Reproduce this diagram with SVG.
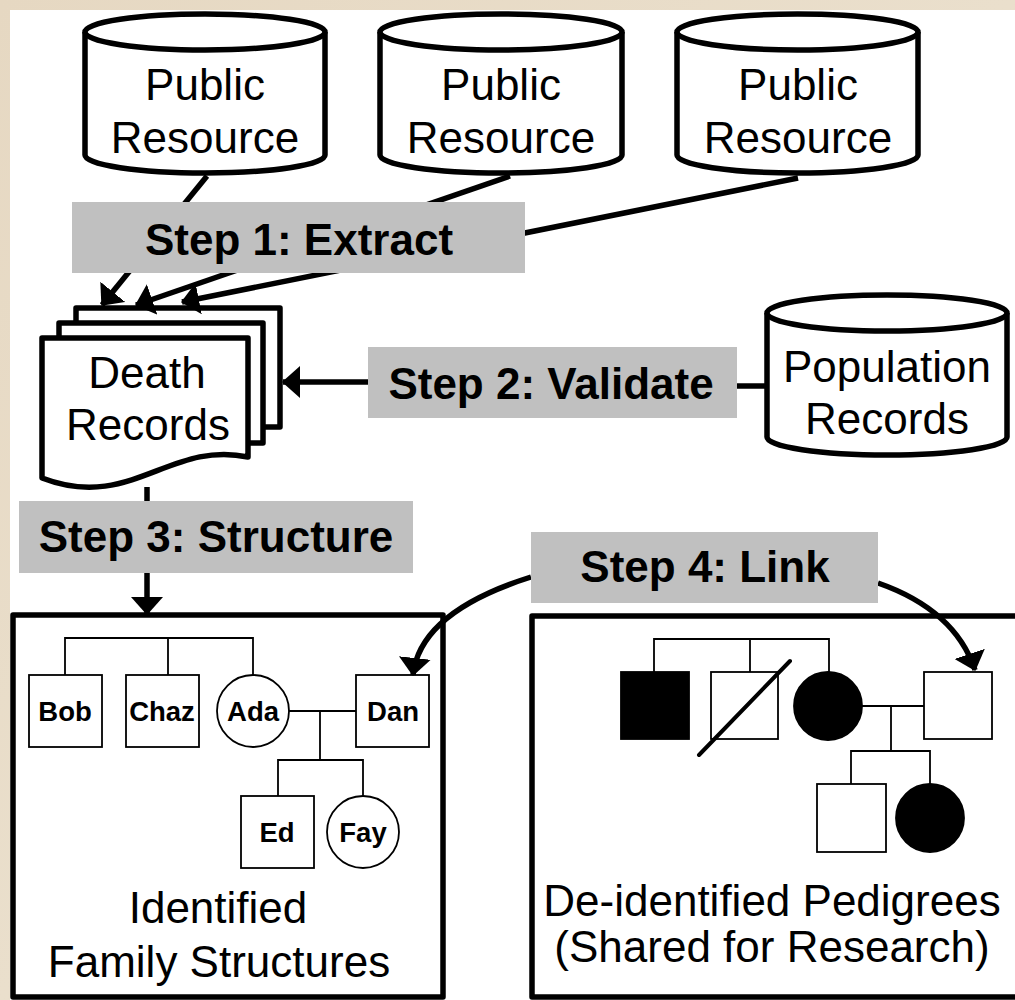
<svg xmlns="http://www.w3.org/2000/svg" width="1015" height="1000" viewBox="0 0 1015 1000">
<defs>
<linearGradient id="parch" x1="0" y1="0" x2="1" y2="1">
<stop offset="0" stop-color="#e6d8c2"/>
<stop offset="0.5" stop-color="#eadfcc"/>
<stop offset="1" stop-color="#dccbb0"/>
</linearGradient>
<marker id="arr" viewBox="0 0 18 32" refX="17" refY="16" markerWidth="18" markerHeight="32" orient="auto" markerUnits="userSpaceOnUse">
<path d="M0,0 L18,16 L0,32 Z" fill="#000"/>
</marker>
<style>
.thick{fill:#fff;stroke:#000;stroke-width:5.5;stroke-linejoin:round}
.conn{fill:none;stroke:#000;stroke-width:5.5}
.thin{fill:#fff;stroke:#000;stroke-width:1.8}
.thinl{fill:none;stroke:#000;stroke-width:1.8}
.filled{fill:#000;stroke:#000;stroke-width:1.8}
.big{font-family:"Liberation Sans",Arial,sans-serif;font-size:44px;fill:#000;text-anchor:middle}
.step{font-family:"Liberation Sans",Arial,sans-serif;font-size:44px;font-weight:bold;fill:#000;text-anchor:middle}
.name{font-family:"Liberation Sans",Arial,sans-serif;font-size:27.5px;font-weight:bold;fill:#000;text-anchor:middle}
.lbl{fill:#c0c0c0}
</style>
</defs>
<rect x="0" y="0" width="1015" height="1000" fill="url(#parch)"/>
<rect x="10" y="10" width="1005" height="990" fill="#fff"/>

<g id="public-resource-1">
<path class="thick" d="M85,32 V155 A120,18 0 0 0 325,155 V32"/>
<ellipse class="thick" cx="205" cy="32" rx="120" ry="18"/>
<text class="big" x="205" y="100">Public</text>
<text class="big" x="205" y="153">Resource</text>
</g>
<g id="public-resource-2">
<path class="thick" d="M380,32 V155 A121,18 0 0 0 622,155 V32"/>
<ellipse class="thick" cx="501" cy="32" rx="121" ry="18"/>
<text class="big" x="501" y="100">Public</text>
<text class="big" x="501" y="153">Resource</text>
</g>
<g id="public-resource-3">
<path class="thick" d="M677,32 V155 A120.5,18 0 0 0 918,155 V32"/>
<ellipse class="thick" cx="797.5" cy="32" rx="120.5" ry="18"/>
<text class="big" x="798" y="100">Public</text>
<text class="big" x="798" y="153">Resource</text>
</g>
<g id="population-records">
<path class="thick" d="M767,313 V437 A120,18 0 0 0 1007,437 V313"/>
<ellipse class="thick" cx="887" cy="313" rx="120" ry="18"/>
<text class="big" x="887" y="382">Population</text>
<text class="big" x="887" y="434">Records</text>
</g>
<g id="death-records">
<rect class="thick" x="76" y="308" width="204" height="119"/>
<rect class="thick" x="59" y="323" width="204" height="120"/>
<path class="thick" d="M42,338 H248 V457 C170,440 130,512 42,478 Z"/>
<text class="big" x="147" y="388">Death</text>
<text class="big" x="148" y="440">Records</text>
</g>

<g id="identified-family">
<rect class="thick" x="13" y="615" width="430" height="382"/>
<path class="thinl" d="M65,675 V638 H253 V675 M168,638 V675 M289,711 H356 M320,711 V760 M278,796 V760 H363 V796"/>
<rect class="thin" x="29" y="675" width="73" height="72"/>
<rect class="thin" x="126" y="675" width="73" height="72"/>
<circle class="thin" cx="253" cy="711" r="36"/>
<rect class="thin" x="356" y="675" width="73" height="72"/>
<rect class="thin" x="241" y="796" width="73" height="72"/>
<circle class="thin" cx="363" cy="832" r="36"/>
<text class="name" x="65" y="721">Bob</text>
<text class="name" x="162" y="721">Chaz</text>
<text class="name" x="253" y="721">Ada</text>
<text class="name" x="393" y="721">Dan</text>
<text class="name" x="277" y="842">Ed</text>
<text class="name" x="363" y="842">Fay</text>
<text class="big" x="218" y="923">Identified</text>
<text class="big" x="219" y="977">Family Structures</text>
</g>

<g id="deidentified-pedigrees">
<rect class="thick" x="532" y="616" width="520" height="381"/>
<path class="thinl" d="M654,672 V639 H829 V672 M750,639 V672 M862,706 H924 M891,706 V751 M851,784 V751 H930 V784"/>
<rect class="filled" x="621" y="672" width="68" height="67"/>
<rect class="thin" x="711" y="672" width="67" height="67"/>
<line x1="699" y1="755" x2="790" y2="661" stroke="#000" stroke-width="4" stroke-linecap="round"/>
<circle class="filled" cx="828" cy="706" r="34"/>
<rect class="thin" x="924" y="672" width="68" height="67"/>
<rect class="thin" x="817" y="784" width="69" height="68"/>
<circle class="filled" cx="930" cy="818" r="34"/>
<text class="big" x="772" y="916">De-identified Pedigrees</text>
<text class="big" x="772" y="962">(Shared for Research)</text>
</g>

<g id="connectors">
<line class="conn" x1="207" y1="176" x2="102" y2="305" marker-end="url(#arr)"/>
<line class="conn" x1="510" y1="176" x2="136" y2="305" marker-end="url(#arr)"/>
<line class="conn" x1="798" y1="178" x2="182" y2="302" marker-end="url(#arr)"/>
<line class="conn" x1="368" y1="382" x2="283" y2="382" marker-end="url(#arr)"/>
<line class="conn" x1="737" y1="386" x2="767" y2="386"/>
<line class="conn" x1="147" y1="487" x2="147" y2="502"/>
<line class="conn" x1="147" y1="573" x2="147" y2="614" marker-end="url(#arr)"/>
<path class="conn" d="M531,577 Q420,612 413,675" marker-end="url(#arr)"/>
<path class="conn" d="M878,583 Q955,610 975,670" marker-end="url(#arr)"/>
</g>

<g id="step-labels">
<g id="step1"><rect class="lbl" x="72" y="202" width="453" height="71"/><text class="step" x="299" y="255">Step 1: Extract</text></g>
<g id="step2"><rect class="lbl" x="368" y="347" width="369" height="71"/><text class="step" x="551" y="399">Step 2: Validate</text></g>
<g id="step3"><rect class="lbl" x="19" y="501" width="394" height="72"/><text class="step" x="216" y="552">Step 3: Structure</text></g>
<g id="step4"><rect class="lbl" x="531" y="532" width="347" height="71"/><text class="step" x="705" y="582">Step 4: Link</text></g>
</g>
</svg>
